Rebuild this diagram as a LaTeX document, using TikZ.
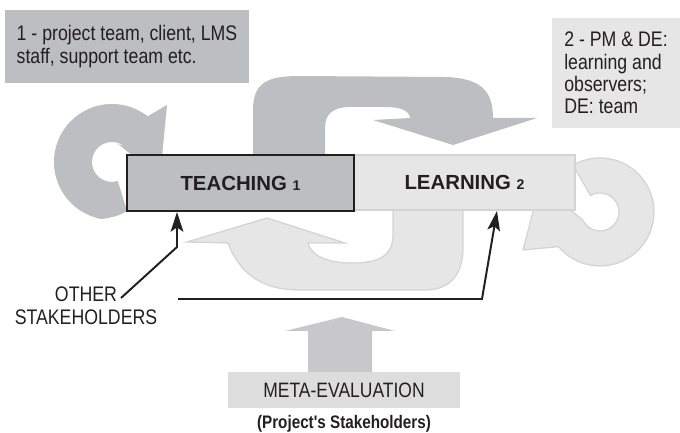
\documentclass[tikz,border=0pt]{standalone}
\usepackage{fontspec}
\setmainfont{Liberation Sans}
\newfontfamily\condfont{Liberation Sans}[FakeStretch=0.84]
\usetikzlibrary{arrows.meta,positioning}

\definecolor{ink}{RGB}{35,31,32}
\definecolor{shadedark}{RGB}{189,190,193}
\definecolor{shademid}{RGB}{200,200,202}
\definecolor{shademeta}{RGB}{221,221,222}
\definecolor{shadelight}{RGB}{230,230,231}
\definecolor{shadeline}{RGB}{212,212,214}

\begin{document}
\begin{tikzpicture}[x=0.025cm, y=-0.025cm,
    lightfill/.style={fill=shadelight, draw=shadeline, line width=0.9pt},
    note/.style={inner sep=0pt, align=left, text=ink,
      font=\condfont\fontsize{15pt}{15.8pt}\selectfont},
    stagebox/.style={text=ink, inner sep=0pt,
      font=\bfseries\fontsize{14.5pt}{14.5pt}\selectfont},
    stake/.style={draw=ink, line width=1.4pt,
      -{Stealth[length=14pt, width=9pt, inset=3pt]}}]

      \useasboundingbox (0,0) rectangle (680,433);

      % Loop over the top, from teaching down to learning.
      \fill[shadedark] (253,155) -- (253,110)
      .. controls (253,82) and (268,76) .. (300,76) -- (445,77)
      .. controls (482,78) and (493,92) .. (493,118)
      -- (537,118) -- (453,145) -- (373,120) -- (410,118)
      .. controls (409,110) and (400,107) .. (385,107) -- (350,107)
      .. controls (333,107) and (325,114) .. (325,128) -- (325,155) -- cycle;

      % Left circular arrow, back into teaching.
      \fill[shadedark] (127,211) .. controls (118,216) .. (101.9,219.1)
      arc [radius=58, start angle=100, end angle=308]
      -- (167,105) -- (160,178) -- (118,144) -- (124.3,146.2)
      arc [radius=20, start angle=308, end angle=73] -- cycle;

      % Loop underneath, from learning back to teaching.
      \filldraw[lightfill] (393,210) -- (393,235)
      .. controls (393,257) and (377,263) .. (352,263)
      .. controls (328,263) and (311,256) .. (308,243)
      -- (345,243) -- (267,218) -- (187,242) -- (228,243)
      .. controls (240,274) and (262,290) .. (300,290) -- (425,290)
      .. controls (452,290) and (463,272) .. (463,248) -- (463,210) -- cycle;

      % Right circular arrow, back into learning.
      \filldraw[lightfill] (573,165.2)
      arc [radius=54, start angle=240, end angle=500]
      -- (523,250) -- (540,185) -- (582.8,220)
      arc [radius=19, start angle=515, end angle=240] -- cycle;

      % Upward arrow from the meta-evaluation.
      \fill[shademid] (308,372) -- (308,331) -- (285,331) -- (342,317)
      -- (395,331) -- (372,331) -- (372,372) -- cycle;

      % The two stages.
      \node[stagebox, lightfill, minimum width=5.525cm, minimum height=1.375cm]
      (learn) at (464.5,182.5)
      {LEARNING {\fontsize{10pt}{10pt}\selectfont 2}};
      \node[stagebox, fill=shadedark, draw=ink, line width=1.4pt,
      minimum width=5.675cm, minimum height=1.4cm]
      (teach) at (240.5,183)
      {TEACHING {\fontsize{10pt}{10pt}\selectfont 1}};

      % Who takes part in each stage.
      \node[note, fill=shadedark, minimum width=6.1cm, minimum height=1.825cm]
      (staff) at (127,46.5)
      {1 - project team, client, LMS\\staff, support team etc.};
      \node[note, fill=shadelight, minimum width=3.2cm, minimum height=2.75cm]
      (roles) at (616,73)
      {2 - PM \& DE:\\learning and\\observers;\\DE: team};

      % Meta-evaluation box and its caption.
      \node[note, fill=shademeta, align=center, minimum width=5.8cm,
      minimum height=0.9cm, font=\condfont\fontsize{14.8pt}{14.8pt}\selectfont]
      (meta) at (344,390) {META-EVALUATION};
      \node[inner sep=0pt, text=ink, anchor=base,
      font=\condfont\bfseries\fontsize{12.9pt}{13pt}\selectfont]
      (who) at (344,428.5) {(Project's Stakeholders)};

      % Other stakeholders feed both stages.
      \node[inner sep=0pt, align=center, text=ink,
      font=\condfont\fontsize{15pt}{16.3pt}\selectfont]
      (other) at (86,306) {OTHER\\STAKEHOLDERS};

      \coordinate (fromA) at (121,298);
      \coordinate (bendA) at (177,247);
      \coordinate (fromB) at (178,299);
      \coordinate (bendB) at (482,299);
      \coordinate (toB) at (497,211);

      \draw[stake] (fromA) -- (bendA) -- (bendA |- teach.south);
      \draw[stake] (fromB) -- (bendB) -- (toB);
    \end{tikzpicture}
\end{document}
